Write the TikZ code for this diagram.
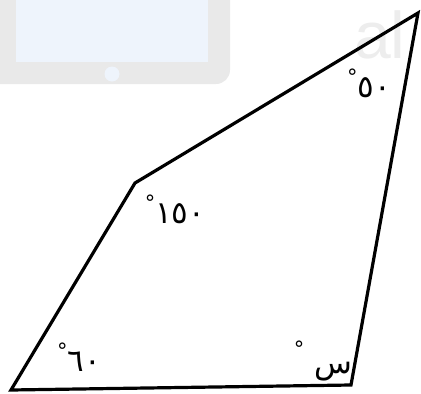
\documentclass[tikz,border=0pt]{standalone}
\usepackage{fontspec}
\newfontfamily\arabicfont[Script=Arabic]{DejaVu Sans}
\newfontfamily\markfont{Liberation Sans}
\usetikzlibrary{positioning}

\definecolor{padGrey}{HTML}{E9E9E9}
\definecolor{padBlue}{HTML}{EEF4FC}
\definecolor{markGrey}{HTML}{EDEDED}

\newcommand{\degmark}[1][0.75ex]{\raisebox{#1}{\fontsize{21}{21}\selectfont °}}

\begin{document}
\begin{tikzpicture}[
			x=1pt, y=-1pt,
			% Style for the quadrilateral sides
			side/.style={line width=3.2pt, line join=miter, line cap=round},
			% Style for the angle labels
			angleLabel/.style={font=\arabicfont\fontsize{31}{34}\selectfont, inner sep=0pt, anchor=center},
			% Faint background watermark
			watermark/.style={font=\markfont\fontsize{66}{68}\selectfont, color=markGrey, inner sep=0pt}
			]
			\useasboundingbox (0,0) rectangle (421,394);
			
			% ==============================================================================
			% WATERMARK
			% ==============================================================================
			\fill[padGrey, rounded corners=14pt] (-20,-20) rectangle (230,84);
			\fill[padBlue] (16,-5) rectangle (208,62);
			\fill[padBlue] (112,74) circle (7.5);
			\node[watermark, anchor=base west] (wm) at (354,58) {al};
			
			% ==============================================================================
			% QUADRILATERAL
			% ==============================================================================
			\coordinate (A) at (11,390);  % bottom left
			\coordinate (B) at (351,385); % bottom right
			\coordinate (C) at (418,13);  % top right
			\coordinate (D) at (135,183); % left
			\draw[side] (A) -- (B) -- (C) -- (D) -- cycle;
			
			% ==============================================================================
			% ANGLES
			% ==============================================================================
			\node[angleLabel] (aC) at (369,83) {\degmark ٥٠};
			\node[angleLabel] (aD) at (175,209) {\degmark ١٥٠};
			\node[angleLabel] (aA) at (79,357) {\degmark ٦٠};
			\node[angleLabel] (aB) at (323,361) {\degmark[1.0ex] س};
			
		\end{tikzpicture}
\end{document}
